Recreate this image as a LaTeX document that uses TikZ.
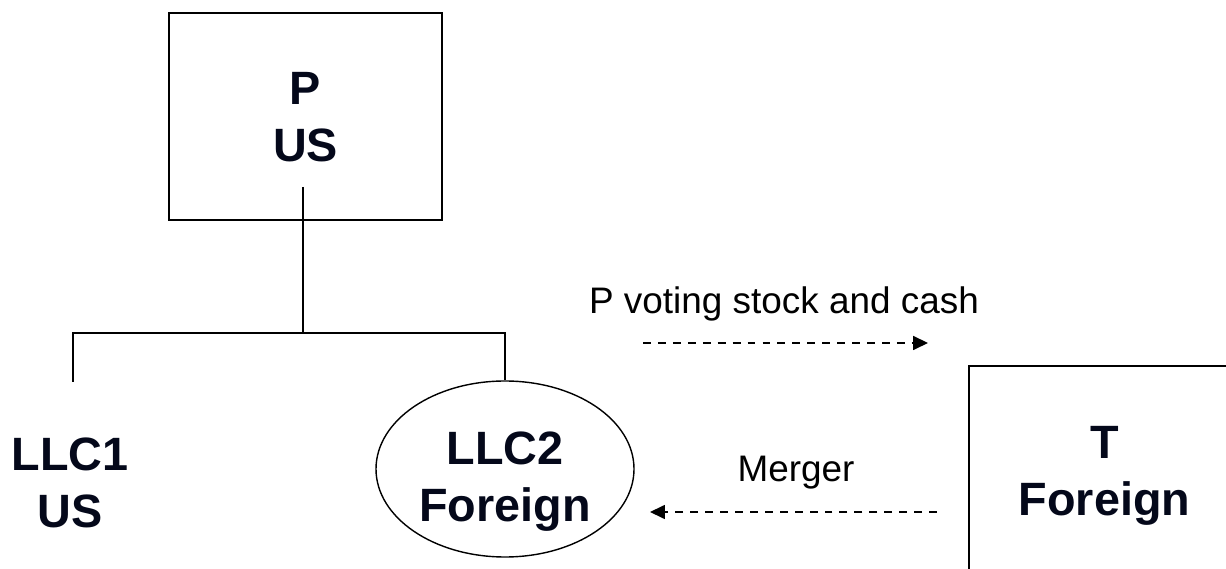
\documentclass[tikz,border=0pt]{standalone}
\usepackage{fontspec}
\setmainfont{Liberation Sans}
\usepackage{xcolor}
\usepackage{tikz}
\usetikzlibrary{shapes,arrows.meta,positioning}
\definecolor{inkblue}{RGB}{4,8,26}

\begin{document}
\begin{tikzpicture}[
    entity/.style={align=center, text=inkblue, inner sep=0pt,
        font=\fontsize{26.6pt}{32.6pt}\selectfont\bfseries,
        text height=52pt, text depth=0.4pt},
    corp/.style={entity, rectangle, draw, line width=1pt,
        minimum width=5.46cm, minimum height=4.14cm},
    disregarded/.style={entity, ellipse, draw, line width=0.8pt,
        minimum width=5.16cm, minimum height=3.52cm,
        text height=60pt, text depth=-6.4pt},
    note/.style={font=\fontsize{21pt}{25pt}\selectfont, anchor=base},
    tree/.style={line width=0.85pt},
    flow/.style={-{Triangle[length=8.5pt, width=8pt]},
        dash pattern=on 4.5pt off 4pt, line width=0.75pt}
]
    \path[use as bounding box, clip] (0,0) rectangle (24.52,11.38);

    \node[corp] (p) at (6.11,9.05) {P\\US};
    \node[entity] (llc1) at (1.40,1.73) {LLC1\\US};
    \node[disregarded] (llc2) at (10.10,2.00) {LLC2\\Foreign};
    \node[corp, minimum width=5.42cm, minimum height=4.16cm] (t) at (22.09,1.98) {T\\Foreign};

    \node[note] (consid) at (15.68,5.10) {P voting stock and cash};
    \node[note] (merger) at (15.92,1.74) {Merger};

    % ownership tree
    \coordinate (pstem) at (6.06,7.64);
    \coordinate (bus) at (6.06,4.72);
    \coordinate (llc1top) at (1.46,3.74);
    \draw[tree] (pstem) -- (bus);
    \draw[tree] (llc1top) -- ++(0,0.98) -| (llc2.north);

    % consideration and merger
    \coordinate (considfrom) at (12.86,4.52);
    \coordinate (considto) at (18.56,4.52);
    \coordinate (mergefrom) at (18.74,1.14);
    \coordinate (mergeto) at (13.00,1.14);
    \draw[flow] (considfrom) -- (considto);
    \draw[flow] (mergefrom) -- (mergeto);
\end{tikzpicture}
\end{document}
